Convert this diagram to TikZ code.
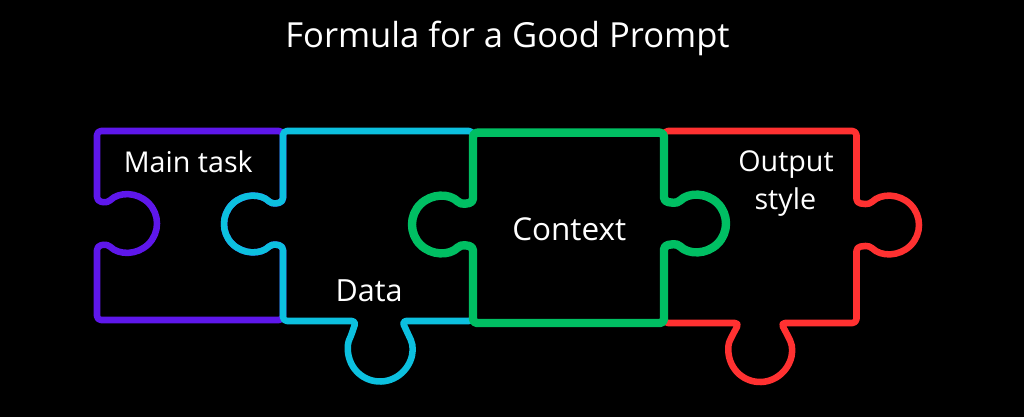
\documentclass[tikz,border=0pt]{standalone}
\usepackage{fontspec}
\setmainfont{Open Sans}
\usetikzlibrary{calc}
\definecolor{ppurple}{HTML}{5E17EB}
\definecolor{pblue}{HTML}{0CC0DF}
\definecolor{pgreen}{HTML}{00BF63}
\definecolor{pred}{HTML}{FF3131}
\begin{document}
\begin{tikzpicture}[x=0.75pt,y=-0.75pt,
  piece/.style={line width=4.9pt, line join=round, rounded corners=3pt},
  thickpiece/.style={piece, line width=6.3pt},
  lbl/.style={text=white, font=\fontsize{21.5}{28.2}\selectfont, inner sep=0pt, anchor=base},
  ttl/.style={text=white, font=\fontsize{25.9}{30}\selectfont, inner sep=0pt, anchor=base}]
\fill[black] (0,0) rectangle (1024,417);
\useasboundingbox (0,0) rectangle (1024,417);
% purple piece
\draw[piece, ppurple] (97,131) -- (283,131) -- (283,202)
  -- ($(252,224)+(-45:28)$) arc[start angle=-45, end angle=-315, radius=28]
  -- (283,246) -- (283,320) -- (97,320) -- (97,246)
  -- ($(128,223.5)+(135:29)$) arc[start angle=135, end angle=-135, radius=29]
  -- (97,201) -- cycle;
% blue piece
\draw[piece, pblue] (283,131) -- (473,131) -- (473,202.5)
  -- ($(440.5,224.5)+(-45:28.5)$) arc[start angle=-45, end angle=-315, radius=28.5]
  -- (473,246.5) -- (473,321) -- (402,321)
  -- ($(380,349.5)+(-25:32)$) arc[start angle=-25, end angle=205, radius=32]
  -- (356,321) -- (283,321) -- (283,246)
  -- ($(252,224)+(45:28)$) arc[start angle=45, end angle=315, radius=28]
  -- (283,202) -- cycle;
% red piece
\draw[piece, pred] (664,131) -- (856.5,131) -- (856.5,203)
  -- ($(890,225)+(-135:29)$) arc[start angle=-135, end angle=135, radius=29]
  -- (856.5,247) -- (856.5,323) -- (781,323)
  -- ($(760,350.5)+(-25:31.5)$) arc[start angle=-25, end angle=205, radius=31.5]
  -- (739,323) -- (664,323) -- (664,245.5)
  -- ($(697.5,223.5)+(135:28.5)$) arc[start angle=135, end angle=-135, radius=28.5]
  -- (664,201.5) -- cycle;
% green piece
\draw[thickpiece, pgreen] (473,132.7) -- (664,132.7) -- (664,201.5)
  -- ($(697.5,223.5)+(-135:28.5)$) arc[start angle=-135, end angle=135, radius=28.5]
  -- (664,245.5) -- (664,323) -- (473,323) -- (473,246.5)
  -- ($(440.5,224.5)+(45:28.5)$) arc[start angle=45, end angle=315, radius=28.5]
  -- (473,202.5) -- cycle;
% texts
\node[ttl] (title) at (507.5,47.3) {Formula for a Good Prompt};
\node[lbl] (main) at (188.3,172.7) {Main task};
\node[lbl, font=\fontsize{22.9}{28}\selectfont] (data) at (369.2,301.7) {Data};
\node[lbl, font=\fontsize{23.6}{28}\selectfont] (context) at (569.2,240) {Context};
\node[lbl] (output) at (786,171.7) {Output};
\node[lbl] (style) at (785.3,209.3) {style};
\end{tikzpicture}
\end{document}
